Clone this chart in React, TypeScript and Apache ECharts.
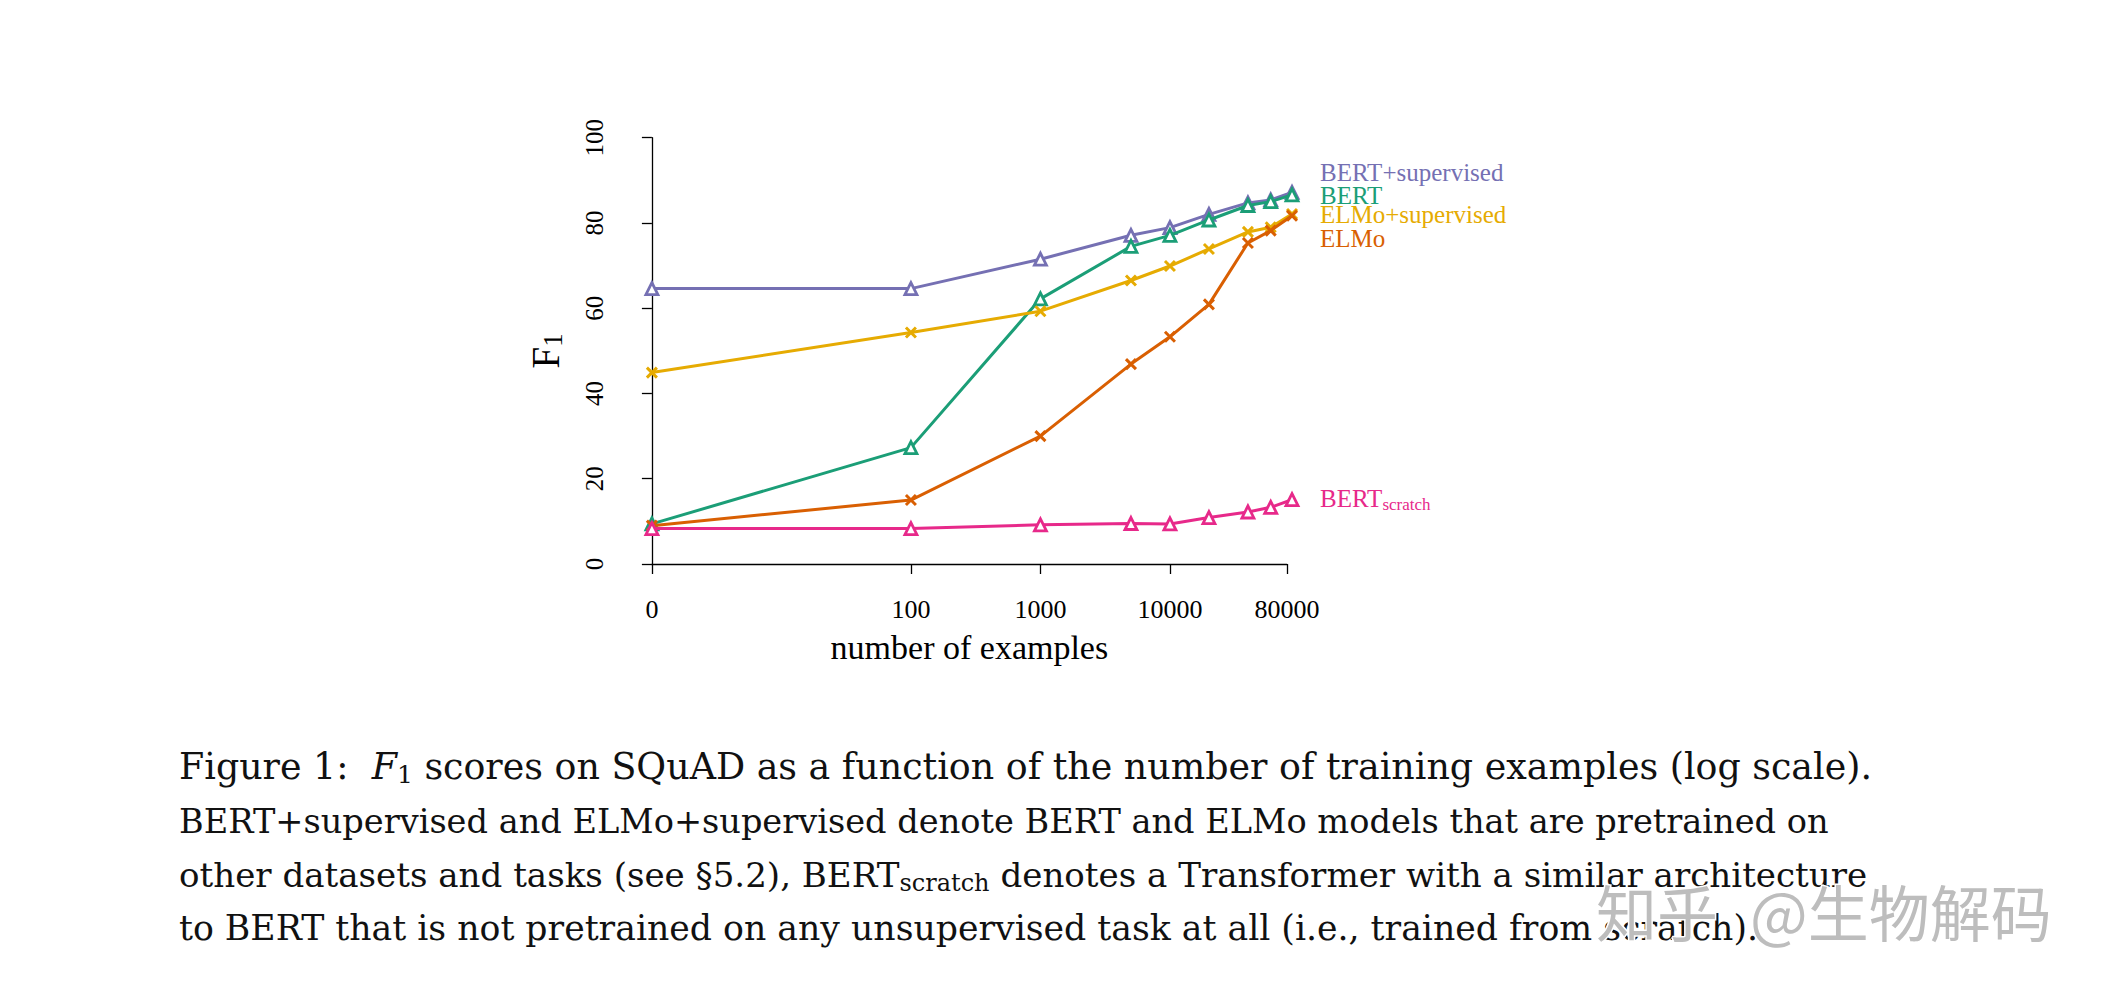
import React, { useEffect, useRef } from "react";
import * as echarts from "echarts";

// ---------- data ----------
const examples = [0, 100, 1000, 5000, 10000, 20000, 40000, 60000, 87599];
const bertSupervised = [64.6, 64.6, 71.5, 77.1, 78.9, 82.0, 84.7, 85.4, 87.2];
const bert = [9.4, 27.3, 62.2, 74.5, 77.1, 80.7, 84.1, 85.0, 86.6];
const elmoSupervised = [44.9, 54.3, 59.3, 66.5, 69.9, 73.9, 77.9, 79.0, 82.1];
const elmo = [9.0, 15.0, 30.0, 46.9, 53.3, 60.9, 75.3, 78.2, 81.7];
const bertScratch = [8.3, 8.3, 9.2, 9.5, 9.4, 10.9, 12.2, 13.3, 15.1];

const xTickValues = [0, 100, 1000, 10000, 80000];
const xTickLabels = ["0", "100", "1000", "10000", "80000"];
const yTickValues = [0, 20, 40, 60, 80, 100];

const seriesNames = ["BERT+supervised", "BERT", "ELMo+supervised", "ELMo", "BERTscratch"];
const seriesColors = ["#7570B3", "#1B9E77", "#E6AB02", "#D95F02", "#E7298A"];
const seriesValues = [bertSupervised, bert, elmoSupervised, elmo, bertScratch];
const seriesMarkers = ["triangle", "triangle", "cross", "cross", "triangle"];

const captionLines = [
  "{n|Figure 1:  }{i|F}{s|1}{n| scores on SQuAD as a function of the number of training examples (log scale).}",
  "BERT+supervised and ELMo+supervised denote BERT and ELMo models that are pretrained on",
  "{n|other datasets and tasks (see §5.2), BERT}{s|scratch}{n| denotes a Transformer with a similar architecture}",
  "to BERT that is not pretrained on any unsupervised task at all (i.e., trained from scratch).",
];

// ---------- helpers ----------
const logPos = (n: number) => (n === 0 ? 0 : Math.log10(n));
const SERIF = '"Liberation Serif", "Times New Roman", serif';
const CAP = '"DejaVu Serif", serif';
const CAP_SIZES = [36.4, 33.6, 34.1, 34.7];
const CROSS = "path://M0,0L10,10M10,0L0,10";

export default function App() {
  const ref = useRef<HTMLDivElement>(null);

  useEffect(() => {
    if (!ref.current) return;
    const chart = echarts.init(ref.current, undefined, { renderer: "svg" });

    const tickPos = xTickValues.map(logPos);

    const series = seriesNames.map((name, k) => {
      const color = seriesColors[k];
      const isTri = seriesMarkers[k] === "triangle";
      return {
        name,
        type: "line",
        data: examples.map((x, i) => [logPos(x), seriesValues[k][i]]),
        clip: false,
        symbol: isTri ? "triangle" : CROSS,
        symbolSize: isTri ? 12 : 10,
        showAllSymbol: true,
        lineStyle: { color, width: 3 },
        itemStyle: isTri
          ? { color: "#ffffff", borderColor: color, borderWidth: 2.8 }
          : { color, borderColor: color, borderWidth: 3 },
        emphasis: { disabled: true },
        z: 2 + k,
      };
    });

    const labelY = [172, 195, 214, 238];
    const rightLabels: any[] = seriesNames.slice(0, 4).map((name, k) => ({
      type: "text",
      x: 1320,
      y: labelY[k],
      style: {
        text: name,
        fill: seriesColors[k],
        font: `25px ${SERIF}`,
        align: "left",
        verticalAlign: "middle",
      },
    }));
    rightLabels.push({
      type: "text",
      x: 1320,
      y: 498,
      style: {
        text: "{a|BERT}{b|scratch}",
        fill: seriesColors[4],
        align: "left",
        verticalAlign: "middle",
        rich: {
          a: { fontSize: 25, fontFamily: SERIF, fill: seriesColors[4] },
          b: { fontSize: 17, fontFamily: SERIF, fill: seriesColors[4], padding: [12, 0, 0, 0] },
        },
      },
    });

    const captionY = [766, 821, 875, 928];
    const captionTexts = captionLines.map((t, i) => {
      const size = CAP_SIZES[i];
      const sub = Math.round(size * 0.7);
      return {
        type: "text",
        x: 179,
        y: captionY[i],
        style: {
          text: t,
          fill: "#111111",
          font: `${size}px ${CAP}`,
          align: "left",
          verticalAlign: "middle",
          rich: {
            n: { fontSize: size, fontFamily: CAP, fill: "#111111" },
            i: { fontSize: size, fontFamily: CAP, fontStyle: "italic", fill: "#111111" },
            s: { fontSize: sub, fontFamily: CAP, fill: "#111111", padding: [16, 0, 0, 0] },
          },
        },
      };
    });

    const watermark = [
      { text: "知乎", x: 1596 },
      { text: "@生物解码", x: 1750 },
    ].map((w) => ({
      type: "text",
      x: w.x,
      y: 910,
      z: 100,
      style: {
        text: w.text,
        fill: "#bdbdbd",
        stroke: "#ffffff",
        lineWidth: 3,
        font: '61px "Noto Sans CJK SC"',
        align: "left",
        verticalAlign: "middle",
      },
    }));

    chart.setOption({
      animation: false,
      backgroundColor: "#ffffff",
      grid: { left: 651.9, top: 137.7, width: 635, height: 426.3, containLabel: false },
      xAxis: {
        type: "value",
        min: 0,
        max: Math.log10(80000),
        offset: 18,
        axisLine: { show: true, lineStyle: { color: "#000", width: 1.3 } },
        axisTick: { show: true, length: 10, customValues: tickPos, lineStyle: { color: "#000", width: 1.3 } },
        axisLabel: {
          customValues: tickPos,
          formatter: (v: number) => {
            let best = 0;
            tickPos.forEach((p, i) => {
              if (Math.abs(p - v) < Math.abs(tickPos[best] - v)) best = i;
            });
            return xTickLabels[best];
          },
          fontFamily: SERIF,
          fontSize: 26,
          color: "#000",
          margin: 14,
        },
        splitLine: { show: false },
        name: "number of examples",
        nameLocation: "middle",
        nameGap: 48,
        nameTextStyle: { fontFamily: SERIF, fontSize: 34, color: "#000" },
      },
      yAxis: {
        type: "value",
        min: 0,
        max: 100,
        interval: 20,
        offset: 25,
        axisLine: { show: true, lineStyle: { color: "#000", width: 1.3 } },
        axisTick: { show: true, length: 10, lineStyle: { color: "#000", width: 1.3 } },
        axisLabel: {
          rotate: 90,
          fontFamily: SERIF,
          fontSize: 25,
          color: "#000",
          margin: 20,
          formatter: (v: number) => (yTickValues.includes(v) ? String(v) : ""),
        },
        splitLine: { show: false },
        name: "{f|F}{s|1}",
        nameLocation: "middle",
        nameRotate: 90,
        nameGap: 60,
        nameTextStyle: {
          rich: {
            f: { fontFamily: SERIF, fontSize: 39, color: "#000" },
            s: { fontFamily: SERIF, fontSize: 27, color: "#000", padding: [16, 0, 0, 0] },
          },
        },
      },
      series,
      graphic: [...rightLabels, ...captionTexts, ...watermark],
    });

    return () => chart.dispose();
  }, []);

  return (
    <div
      ref={ref}
      style={{ position: "fixed", left: 0, top: 0, width: 2106, height: 1000, background: "#fff" }}
    />
  );
}
